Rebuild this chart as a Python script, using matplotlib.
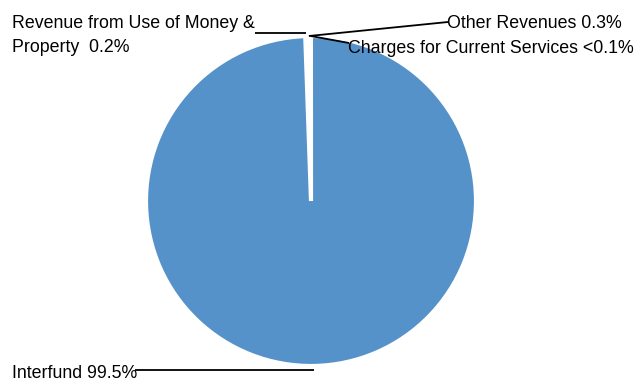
import numpy as np
import matplotlib
matplotlib.use("Agg")
import matplotlib.pyplot as plt

plt.rcParams["font.family"] = ["Liberation Sans", "DejaVu Sans"]

# Fuentes de ingreso (porcentaje del total)
fuentes = ["Revenue from Use of Money &\nProperty", "Other Revenues",
           "Charges for Current Services", "Interfund"]
porcentajes = [0.2, 0.3, 0.05, 99.5]
etiquetas_pct = ["0.2%", "0.3%", "<0.1%", "99.5%"]
colores = ["white", "white", "white", "#5592C9"]

W, H = 635, 382
fig = plt.figure(figsize=(W / 100, H / 100), dpi=100)
ax = fig.add_axes([0, 0, 1, 1])

centro = (311, H - 201)
radio = 165
inicio = 92
cunas, _ = ax.pie(porcentajes, colors=colores, startangle=inicio, counterclock=False,
                  center=centro, radius=radio,
                  wedgeprops=dict(edgecolor="white", linewidth=3))
ax.set_xlim(0, W)
ax.set_ylim(0, H)
ax.set_aspect("equal")
ax.axis("off")

TAM = 12.8

# posicion del texto y extremo de la linea guia (pixeles, y hacia abajo)
textos = [
    dict(x=12, y=28, fin=(255, 33)),
    dict(x=447, y=28, fin=(448, 22)),
    dict(x=348, y=53, fin=(349, 43)),
    dict(x=12, y=378, fin=(135, 370)),
]

for cuna, nombre, pct, t in zip(cunas, fuentes, etiquetas_pct, textos):
    ang = np.deg2rad((cuna.theta1 + cuna.theta2) / 2)
    px = centro[0] + radio * np.cos(ang)
    py = centro[1] + radio * np.sin(ang)
    fx, fy = t["fin"]
    if fuentes.index(nombre) in (0, 3):
        py = H - fy  # guia horizontal
    ax.plot([px, fx], [py, H - fy], color="black", lw=1.3, solid_capstyle="butt")
    lineas = nombre.split("\n")
    if len(lineas) > 1:
        ax.text(t["x"], H - t["y"], lineas[0], fontsize=TAM, va="baseline")
        ax.text(t["x"], H - t["y"] - 24, f"{lineas[1]}  {pct}", fontsize=TAM,
                va="baseline")
    else:
        ax.text(t["x"], H - t["y"], f"{nombre} {pct}", fontsize=TAM, va="baseline")

fig.savefig("out.png", dpi=100)
